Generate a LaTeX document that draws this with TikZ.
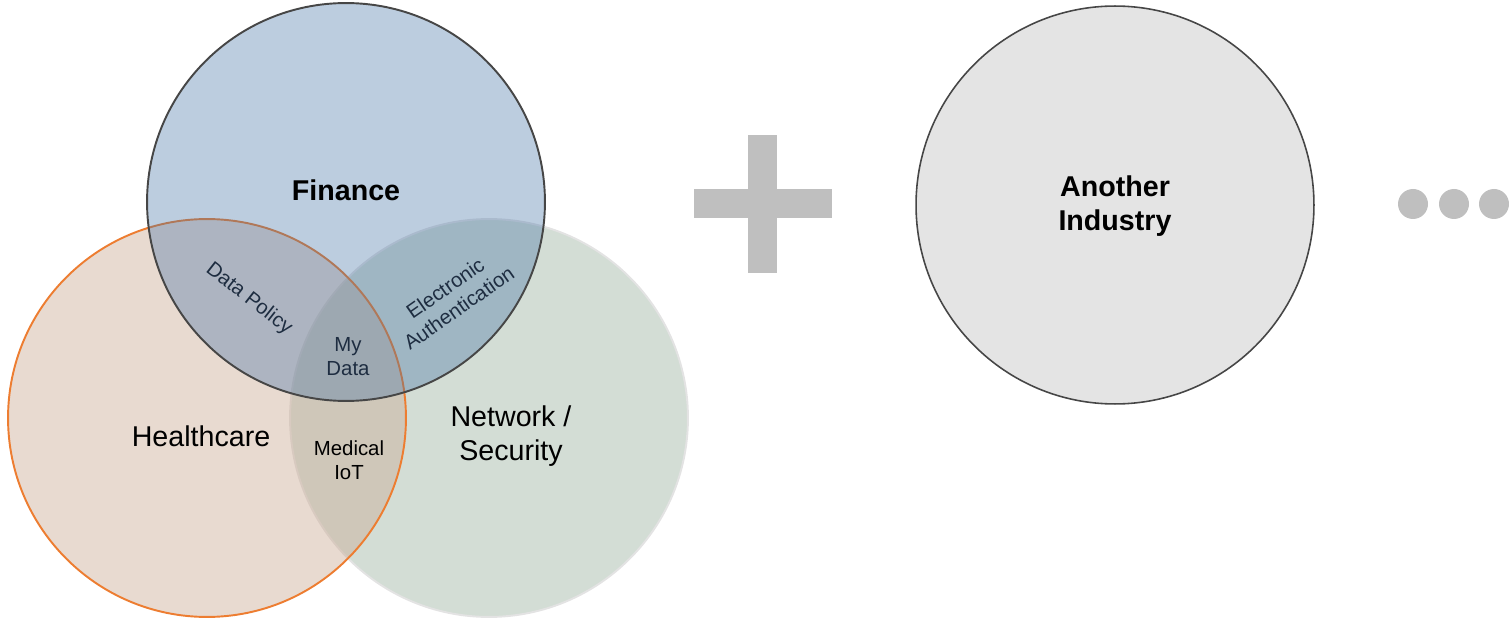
\documentclass[tikz,border=0pt]{standalone}
\usepackage{fontspec}
\setmainfont{Liberation Sans}
\usetikzlibrary{positioning}

\definecolor{finblue}{RGB}{64,112,164}
\definecolor{healthpeach}{RGB}{204,173,151}
\definecolor{netgreen}{RGB}{211,221,213}
\definecolor{othergray}{RGB}{228,228,228}
\definecolor{plusgray}{RGB}{191,191,191}
\definecolor{rimorange}{RGB}{237,125,49}
\definecolor{rimdark}{RGB}{70,70,70}
\definecolor{labelnavy}{RGB}{30,45,65}

\begin{document}
\begin{tikzpicture}[x=0.02cm,y=-0.02cm]
\tikzstyle{ring}=[circle,minimum size=7.96cm,inner sep=0pt,line width=1.1pt]
\tikzstyle{big}=[font=\fontsize{16.3}{19.8}\selectfont,align=center]
\tikzstyle{small}=[font=\fontsize{11.6}{13.6}\selectfont,align=center,text=labelnavy]
\useasboundingbox (0,0) rectangle (1509,628);
% the three overlapping industries
\node[ring,fill=netgreen,draw=gray!22] (net) at (489,418) {};
\node[ring,fill=healthpeach,fill opacity=0.45,draw=rimorange] (health) at (207,418) {};
\node[ring,fill=finblue,fill opacity=0.35,draw=rimdark] (fin) at (346,202) {};
\node[big,font=\bfseries\fontsize{16.3}{19.8}\selectfont] (finlbl) at (346,190) {Finance};
\node[big] (healthlbl) at (201,436) {Healthcare};
\node[big] (netlbl) at (511,436) {Network /\\Security};
\node[small,rotate=-38] (policy) at (249,299) {Data Policy};
\node[small,rotate=35] (auth) at (452,298) {Electronic\\Authentication};
\node[small] (mydata) at (348,357) {My\\Data};
\node[small,text=black] (iot) at (349,460) {Medical\\IoT};
% plus sign
\fill[plusgray] (748,135) rectangle (777,273);
\fill[plusgray] (694,189) rectangle (832,218);
% the next industry
\node[ring,fill=othergray,draw=rimdark,line width=0.9pt] (other) at (1115,205) {};
\node[big,font=\bfseries\fontsize{16.3}{19.8}\selectfont] (otherlbl) at (1115,206) {Another\\Industry};
% dots
\foreach \x in {1413,1454,1494}
  \fill[plusgray] (\x,204) circle (15);
\end{tikzpicture}
\end{document}
